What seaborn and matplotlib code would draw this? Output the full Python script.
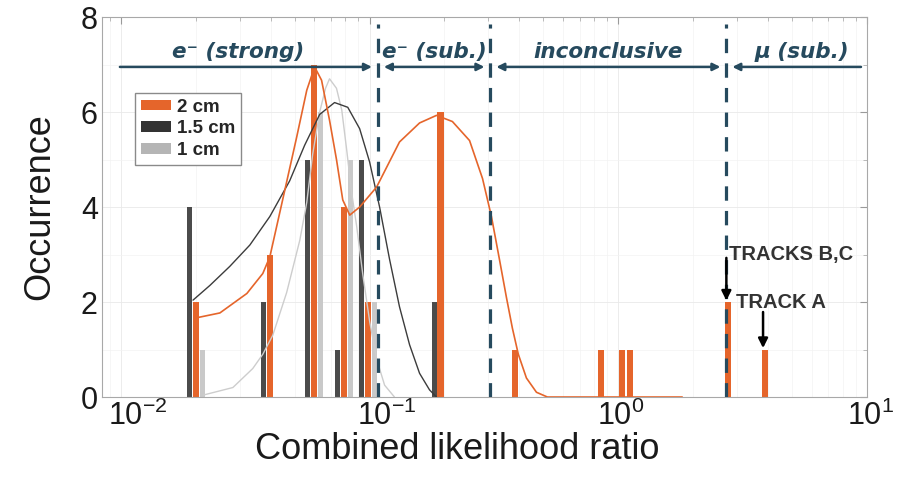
import numpy as np
import matplotlib
matplotlib.use("Agg")
import matplotlib.pyplot as plt
from matplotlib.patches import Patch
from matplotlib.transforms import ScaledTranslation
import seaborn as sns

# ---- histogram bins (combined likelihood ratio) and counts per track length ----
bin_x = [0.0200, 0.0397, 0.0596, 0.0787, 0.0982, 0.1928,
         0.3856, 0.855, 1.038, 1.117, 2.77, 3.89]
count_2cm = [2, 3, 7, 4, 2, 6, 1, 1, 1, 1, 2, 1]
count_15cm = [4, 2, 5, 1, 5, 2, 0, 0, 0, 0, 0, 0]
count_1cm = [1, 0, 6, 5, 2, 0, 0, 0, 0, 0, 0, 0]

# ---- fitted distributions ----
fit_2cm_x = [0.0198, 0.0250, 0.0321, 0.0372, 0.0397, 0.0447, 0.0509, 0.0559,
             0.0601, 0.0641, 0.0690, 0.0736, 0.0780, 0.0832, 0.0912, 0.1067,
             0.1319, 0.1588, 0.1858, 0.2153, 0.2523, 0.2845, 0.3090, 0.3327,
             0.3549, 0.3751, 0.3963, 0.4272, 0.4688, 0.5188, 0.839, 1.807]
fit_2cm_y = [1.66, 1.77, 2.18, 2.60, 2.95, 4.15, 5.47, 6.46,
             6.95, 6.67, 5.83, 5.00, 4.15, 3.83, 4.00, 4.42,
             5.37, 5.77, 5.93, 5.80, 5.40, 4.60, 3.80, 2.90,
             2.10, 1.45, 0.90, 0.40, 0.10, 0.0, 0.0, 0.0]

fit_15cm_x = [0.0195, 0.0228, 0.0274, 0.0330, 0.0397, 0.0477, 0.0548, 0.0630,
              0.0723, 0.0817, 0.0912, 0.1000, 0.1097, 0.1203, 0.1319, 0.1448,
              0.1588, 0.1742, 0.1858]
fit_15cm_y = [2.04, 2.35, 2.75, 3.20, 3.80, 4.55, 5.30, 5.95,
              6.20, 6.10, 5.65, 4.95, 4.00, 2.90, 1.90, 1.10,
              0.50, 0.15, 0.0]

fit_1cm_x = [0.0214, 0.0282, 0.0339, 0.0372, 0.0408, 0.0464, 0.0524, 0.0559,
             0.0590, 0.0630, 0.0665, 0.0690, 0.0736, 0.0773, 0.0809, 0.0847,
             0.0887, 0.0938, 0.1000, 0.1067, 0.1149, 0.1259]
fit_1cm_y = [0.04, 0.20, 0.60, 0.90, 1.30, 2.20, 3.30, 4.10,
             5.10, 6.00, 6.50, 6.70, 6.50, 6.04, 5.20, 4.30,
             3.60, 2.60, 1.60, 0.80, 0.25, 0.0]

# ---- classification thresholds and regions ----
thresholds = [0.108, 0.306, 2.72]
region_labels = ["e\u207b (strong)", "e\u207b (sub.)", "inconclusive", "\u03bc (sub.)"]

ORANGE = "#E5652B"
DARK = "#4b4b4b"
LIGHT = "#c9c9c9"
SLATE = "#264a5e"

sns.set_theme(style="white")
plt.rcParams["font.family"] = ["Liberation Sans", "DejaVu Sans"]
plt.rcParams["mathtext.default"] = "regular"

fig = plt.figure(figsize=(9.05, 4.83), dpi=100)
ax = fig.add_axes([0.1127, 0.178, 0.8453, 0.7867])
ax.set_xscale("log")
ax.set_xlim(10 ** -2.076, 10)
ax.set_ylim(0, 8)

# faint background grid
ax.grid(True, which="major", color="#e9e9e9", lw=0.6)
ax.grid(True, which="minor", color="#f3f3f3", lw=0.5)
ax.set_axisbelow(True)


def log_bars(centers, heights, shift, width, color):
    c = np.asarray(centers, dtype=float)
    h = np.asarray(heights, dtype=float)
    keep = h > 0
    left = c[keep] * 10 ** (shift - width / 2)
    right = c[keep] * 10 ** (shift + width / 2)
    ax.bar(left, h[keep], width=right - left, align="edge",
           color=color, lw=0, zorder=2)


log_bars(bin_x, count_15cm, -0.025, 0.021, DARK)
log_bars(bin_x, count_2cm, 0.0, 0.025, ORANGE)
log_bars(bin_x, count_1cm, 0.028, 0.018, LIGHT)

sns.lineplot(x=fit_1cm_x, y=fit_1cm_y, ax=ax, color="#cdcdcd", lw=1.0, zorder=3)
sns.lineplot(x=fit_15cm_x, y=fit_15cm_y, ax=ax, color="#3c3c3c", lw=1.0, zorder=3)
sns.lineplot(x=fit_2cm_x, y=fit_2cm_y, ax=ax, color=ORANGE, lw=1.2, zorder=4)

# region boundaries
for t in thresholds:
    ax.plot([t, t], [0, 7.85], color=SLATE, lw=2.3,
            linestyle=(0, (4.5, 3.2)), zorder=5)

# region arrows and labels
gap = 10 ** 0.024
edges = [10 ** -2.004] + thresholds + [9.46]
styles = ["-|>", "<|-|>", "<|-|>", "<|-"]
for i, st in enumerate(styles):
    x0 = edges[i] * (gap if i > 0 else 1)
    x1 = edges[i + 1] / (gap if i < 3 else 1)
    ax.annotate("", xy=(x1, 6.95), xytext=(x0, 6.95),
                arrowprops=dict(arrowstyle=st, color=SLATE, lw=1.8,
                                mutation_scale=11, shrinkA=0, shrinkB=0),
                zorder=6)
label_x = [0.0295, 0.1824, 0.912, 5.48]
for lx, txt in zip(label_x, region_labels):
    ax.text(lx, 7.27, txt, ha="center", va="center", color=SLATE,
            fontsize=15.5, fontweight="bold", fontstyle="oblique",
            family=["DejaVu Sans"], zorder=6)

# track annotations
ax.annotate("", xy=(2.72, 2.03), xytext=(2.72, 2.93),
            arrowprops=dict(arrowstyle="-|>", color="black", lw=1.8,
                            mutation_scale=14, shrinkA=0, shrinkB=0), zorder=7)
ax.text(2.79, 3.01, "TRACKS B,C", ha="left", va="center", color="#333333",
        fontsize=14.5, fontweight="bold", zorder=7)
ax.annotate("", xy=(3.82, 1.03), xytext=(3.82, 1.79),
            arrowprops=dict(arrowstyle="-|>", color="black", lw=1.8,
                            mutation_scale=14, shrinkA=0, shrinkB=0), zorder=7)
ax.text(2.98, 2.0, "TRACK A", ha="left", va="center", color="#333333",
        fontsize=14.5, fontweight="bold", zorder=7)

# legend
handles = [Patch(facecolor=ORANGE, edgecolor="none", label="2 cm"),
           Patch(facecolor="#333333", edgecolor="none", label="1.5 cm"),
           Patch(facecolor="#b5b5b5", edgecolor="none", label="1 cm")]
leg = ax.legend(handles=handles, loc="upper left", bbox_to_anchor=(0.043, 0.80),
                frameon=True, fancybox=False, framealpha=1, edgecolor="#8a8a8a",
                prop=dict(family="Liberation Sans", weight="bold", size=13.5),
                handlelength=1.65, handleheight=0.5, handletextpad=0.3,
                labelspacing=0.25, borderpad=0.3, borderaxespad=0)
leg.get_frame().set_linewidth(1.0)
leg.set_zorder(8)

# axes styling
ax.set_yticks([0, 2, 4, 6, 8])
ax.set_yticks([1, 3, 5, 7], minor=True)
ax.set_xticks([0.01, 0.1, 1, 10])
ax.tick_params(axis="both", which="major", direction="in", length=5,
               width=0.8, color="#9a9a9a", labelsize=22, labelcolor="#1a1a1a",
               top=True, right=True, pad=3)
ax.tick_params(axis="both", which="minor", direction="in", length=3,
               width=0.6, color="#b0b0b0", top=True, right=True)
for sp in ax.spines.values():
    sp.set_color("#a8a8a8")
    sp.set_linewidth(0.8)

# nudge the decade labels to sit clear of the y-axis labels
for lab, dx in zip(ax.get_xticklabels(), [17, 17, 2, 4]):
    lab.set_transform(lab.get_transform()
                      + ScaledTranslation(dx / 100, 0, fig.dpi_scale_trans))

ax.set_xlabel("Combined likelihood ratio", fontsize=26, color="#1a1a1a", va="center")
ax.set_ylabel("Occurrence", fontsize=26, color="#1a1a1a", va="center")
ax.xaxis.set_label_coords(0.465, -0.139)
ax.yaxis.set_label_coords(-0.081, 0.5)

fig.savefig("out.png", dpi=100)
